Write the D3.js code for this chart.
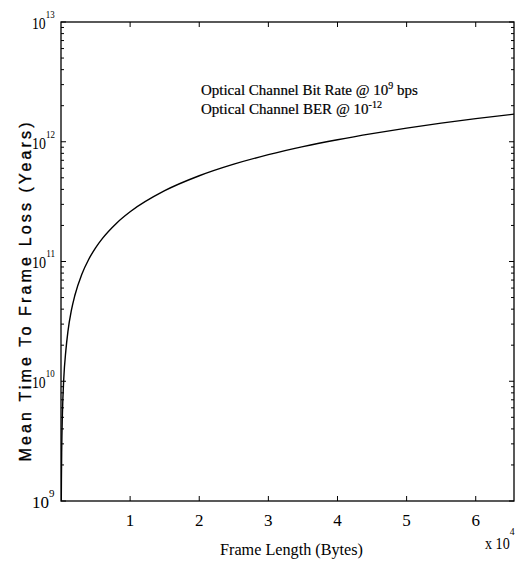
<!DOCTYPE html>
<html>
<head>
<meta charset="utf-8">
<script src="https://cdn.jsdelivr.net/npm/d3@7"></script>
<style>
  html, body { margin: 0; padding: 0; background: #fff; }
  svg { display: block; }
  text { fill: #000; }
</style>
</head>
<body>
<svg id="chart" width="515" height="561"></svg>
<script>
// Frame length (bytes) and mean time to frame loss (years)
const frameLength = [40, 60, 100, 200, 400, 700, 1000, 1500, 2000, 3000, 4000, 5000, 6000,
  8000, 10000, 15000, 20000, 25000, 30000, 35000, 40000, 45000, 50000, 55000, 60000, 65536];
const meanTimeToLoss = [1.0e9, 1.5e9, 2.6e9, 5.2e9, 1.05e10, 1.8e10, 2.6e10, 3.9e10, 5.2e10,
  7.8e10, 1.04e11, 1.3e11, 1.56e11, 2.08e11, 2.6e11, 3.9e11, 5.2e11, 6.5e11, 7.8e11, 9.1e11,
  1.04e12, 1.17e12, 1.3e12, 1.43e12, 1.56e12, 1.7e12];

// Axis ticks
const xTickValues = [10000, 20000, 30000, 40000, 50000, 60000];
const xTickLabels = ["1", "2", "3", "4", "5", "6"];
const yTickExponents = [9, 10, 11, 12, 13];

// Annotation lines: [text, superscript base, superscript, tail]
const noteLines = [
  ["Optical Channel Bit Rate @ ", "10", "9", " bps"],
  ["Optical Channel BER @ ", "10", "-12", ""]
];

const svg = d3.select("#chart");
const plotL = 61, plotR = 514, plotT = 22, plotB = 501;

const x = d3.scaleLinear().domain([0, 65536]).range([plotL, plotR]);
const y = d3.scaleLog().domain([1e9, 1e13]).range([plotB, plotT]);

const serif = "'Liberation Serif', 'Times New Roman', serif";

// squeeze a text element horizontally to a given width, anchored at x0
function fitWidth(sel, x0, width) {
  const w = sel.node().getBBox().width;
  const s = width / w;
  sel.attr("transform", `translate(${x0},0) scale(${s},1) translate(${-x0},0)`);
}

// clip for the curve
svg.append("clipPath").attr("id", "plotClip")
  .append("rect").attr("x", plotL).attr("y", plotT)
  .attr("width", plotR - plotL).attr("height", plotB - plotT);

// minor log ticks
const minorTicks = [];
for (let e = 9; e < 13; e++) for (let m = 2; m <= 9; m++) minorTicks.push(m * Math.pow(10, e));
const majorY = yTickExponents.map(e => Math.pow(10, e));

const tickG = svg.append("g").attr("stroke", "#000").attr("stroke-width", 1);
// left & right ticks
tickG.selectAll(".ymaj").data(majorY).enter().append("path")
  .attr("d", d => `M${plotL},${y(d)}h5M${plotR},${y(d)}h-5`);
tickG.selectAll(".ymin").data(minorTicks).enter().append("path")
  .attr("d", d => `M${plotL},${y(d)}h3M${plotR},${y(d)}h-3`);
// bottom & top ticks
tickG.selectAll(".xmaj").data(xTickValues).enter().append("path")
  .attr("d", d => `M${x(d)},${plotB}v-5M${x(d)},${plotT}v5`);

// frame
svg.append("rect")
  .attr("x", plotL).attr("y", plotT)
  .attr("width", plotR - plotL).attr("height", plotB - plotT)
  .attr("fill", "none").attr("stroke", "#000").attr("stroke-width", 1.3);

// x tick labels
svg.append("g").selectAll("text").data(xTickValues).enter().append("text")
  .attr("x", d => x(d)).attr("y", 526)
  .attr("text-anchor", "middle")
  .style("font-family", serif).style("font-size", "17px")
  .text((d, i) => xTickLabels[i]);

// y tick labels: 10^n
yTickExponents.forEach(e => {
  const yy = y(Math.pow(10, e));
  const t = svg.append("text").attr("x", 32).attr("y", yy + 7)
    .style("font-family", serif).style("font-size", "17px");
  t.append("tspan").text("10");
  t.append("tspan").attr("dy", -11).style("font-size", "11px").text(String(e));
  fitWidth(t, 32, 23);
});

// x multiplier
const mult = svg.append("text").attr("x", 485).attr("y", 549)
  .style("font-family", serif).style("font-size", "16px");
mult.append("tspan").text("x 10");
mult.append("tspan").attr("dy", -14).style("font-size", "11px").text("4");
fitWidth(mult, 485, 30);

// x axis title
const xt = svg.append("text").attr("x", 220).attr("y", 555)
  .style("font-family", serif).style("font-size", "17px")
  .text("Frame Length (Bytes)");
fitWidth(xt, 220, 143);

// y axis title
svg.append("text")
  .attr("transform", "translate(31,292) rotate(-90)")
  .attr("text-anchor", "middle")
  .attr("textLength", 339).attr("lengthAdjust", "spacing")
  .style("font-family", "'Liberation Sans', Arial, sans-serif")
  .style("font-size", "16px")
  .style("stroke", "#000").style("stroke-width", 0.35)
  .text("Mean Time To Frame Loss (Years)");

// annotation
const noteWidths = [217, 181];
noteLines.forEach((ln, i) => {
  const t = svg.append("text").attr("x", 201).attr("y", 95 + i * 19)
    .style("font-family", serif).style("font-size", "15px")
    .style("stroke", "#000").style("stroke-width", 0.2);
  t.append("tspan").text(ln[0]);
  t.append("tspan").text(ln[1]);
  t.append("tspan").attr("dy", -6).style("font-size", "10px").text(ln[2]);
  if (ln[3]) t.append("tspan").attr("dy", 6).text(ln[3]);
  fitWidth(t, 201, noteWidths[i]);
});

// curve
const line = d3.line()
  .x((d, i) => x(frameLength[i]))
  .y((d, i) => y(meanTimeToLoss[i]))
  .curve(d3.curveMonotoneX);

svg.append("path")
  .datum(frameLength)
  .attr("clip-path", "url(#plotClip)")
  .attr("d", line)
  .attr("fill", "none").attr("stroke", "#000").attr("stroke-width", 1.4);
</script>
</body>
</html>
